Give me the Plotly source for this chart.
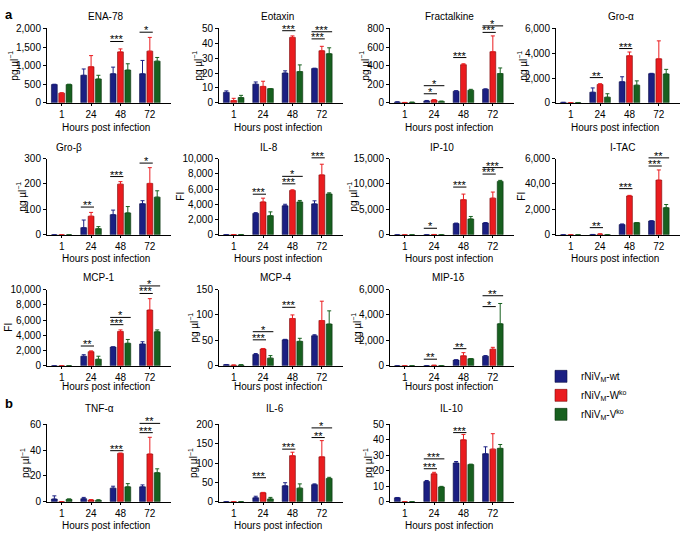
import plotly.graph_objects as go

W, H = 685, 536

HOURS = ["1", "24", "48", "72"]
SERIES = ["rNiV<sub>M</sub>-wt", "rNiV<sub>M</sub>-W<sup>ko</sup>", "rNiV<sub>M</sub>-V<sup>ko</sup>"]
COLORS = ["#1b1f82", "#ea1c1f", "#17601f"]
EDGES = ["#0a0d40", "#7a0a0a", "#0a300d"]

# Means: [wt, W-ko, V-ko] x hours (1, 24, 48, 72)
ENA78_MEAN = [[490, 740, 780, 780], [260, 970, 1370, 1390], [490, 640, 880, 1120]]
ENA78_ERR = [[10, 170, 180, 360], [10, 300, 80, 370], [10, 100, 170, 100]]
EOTAXIN_MEAN = [[7, 12.5, 20, 23], [1.5, 11, 44, 35], [3.5, 9.5, 21, 33]]
EOTAXIN_ERR = [[1, 1.5, 1.5, 0.3], [1.5, 3.5, 1, 3], [1.5, 0, 4.5, 4]]
FRACT_MEAN = [[8, 20, 125, 145], [3, 30, 410, 550], [5, 15, 135, 315]]
FRACT_ERR = [[2, 5, 5, 5], [1, 3, 10, 170], [1, 3, 10, 60]]
GROA_MEAN = [[30, 850, 1700, 2350], [10, 1480, 3800, 3550], [20, 450, 1420, 2330]]
GROA_ERR = [[5, 350, 400, 30], [5, 60, 300, 1450], [5, 280, 350, 370]]
GROB_MEAN = [[0, 28, 79, 122], [0, 73, 199, 202], [0, 24, 86, 148]]
GROB_ERR = [[0, 30, 18, 12], [0, 15, 10, 62], [0, 8, 25, 25]]
IL8_MEAN = [[20, 2800, 3800, 4050], [20, 4300, 5800, 7850], [30, 2500, 4300, 5350]]
IL8_ERR = [[5, 100, 200, 400], [5, 500, 100, 1400], [5, 500, 200, 150]]
IP10_MEAN = [[0, 20, 2200, 2300], [0, 50, 6900, 7200], [0, 20, 3100, 10500]]
IP10_ERR = [[0, 5, 100, 100], [0, 10, 1100, 1200], [0, 5, 500, 200]]
ITAC_MEAN = [[0, 20, 800, 1080], [0, 50, 3050, 4300], [0, 10, 950, 2130]]
ITAC_ERR = [[0, 5, 50, 20], [0, 20, 50, 800], [0, 5, 10, 250]]
MCP1_MEAN = [[0, 1250, 2450, 2850], [0, 1850, 4500, 7300], [0, 850, 2950, 4450]]
MCP1_ERR = [[0, 200, 30, 300], [0, 100, 200, 1500], [0, 400, 500, 250]]
MCP4_MEAN = [[2, 22, 51, 59], [1, 33, 93, 89], [1.5, 15, 48, 82]]
MCP4_ERR = [[0.5, 2, 1, 2], [0.5, 1, 7, 38], [0.5, 5, 6, 26]]
MIP1D_MEAN = [[0, 10, 450, 750], [0, 30, 780, 1300], [0, 10, 550, 3300]]
MIP1D_ERR = [[0, 5, 20, 50], [0, 10, 250, 150], [0, 5, 20, 1600]]
TNFA_MEAN = [[2, 2.3, 10.5, 11.5], [0, 1.3, 37.5, 37], [1.8, 1, 11.5, 22.5]]
TNFA_ERR = [[2.5, 1, 1.5, 1.5], [0, 0.3, 0.2, 13], [0.3, 0.5, 2.5, 3]]
IL6_MEAN = [[0, 10, 41, 44], [0, 23, 119, 116], [0, 7, 35, 60]]
IL6_ERR = [[0, 4, 8, 2], [0, 1, 9, 42], [0, 4, 11, 3]]
IL10_MEAN = [[2.5, 13, 25, 31], [0, 18, 40, 34], [0, 9.5, 24, 34.5]]
IL10_ERR = [[0.2, 0.7, 1, 4.5], [0, 1, 3.5, 10], [0, 0.4, 0.3, 2.5]]

# Tick values and labels
ENA78_TICKS = [0, 500, 1000, 1500, 2000]
EOTAXIN_TICKS = [0, 10, 20, 30, 40, 50]
FRACT_TICKS = [0, 200, 400, 600, 800]
GROA_TICKS = [0, 2000, 4000, 6000]
GROB_TICKS = [0, 100, 200, 300]
IL8_TICKS = [0, 2000, 4000, 6000, 8000, 10000]
IP10_TICKS = [0, 5000, 10000, 15000]
ITAC_TICKS = [0, 2000, 4000, 6000]
ITAC_TICK_LABELS = ["0", "2,000", "40,00", "6,000"]
MCP1_TICKS = [0, 2000, 4000, 6000, 8000, 10000]
MCP4_TICKS = [0, 50, 100, 150]
MIP1D_TICKS = [0, 2000, 4000, 6000]
TNFA_TICKS = [0, 20, 40, 60]
IL6_TICKS = [0, 50, 100, 150, 200]
IL10_TICKS = [0, 10, 20, 30, 40, 50]

# Significance: (hour index, compared group: 1 = W-ko, 2 = V-ko, label, bracket level)
ENA78_SIG = [(2, 1, "***", 1650), (3, 1, "*", 1900)]
EOTAXIN_SIG = [(2, 1, "***", 48.5), (3, 1, "***", 43), (3, 2, "***", 47.8)]
FRACT_SIG = [(1, 1, "*", 97), (1, 2, "*", 184), (2, 1, "***", 487), (3, 1, "***", 758), (3, 2, "*", 828)]
GROA_SIG = [(1, 1, "**", 2035), (2, 1, "***", 4380)]
GROB_SIG = [(1, 1, "**", 109), (2, 1, "***", 229), (3, 1, "*", 282)]
IL8_SIG = [(1, 1, "***", 5320), (2, 1, "***", 6680), (2, 2, "*", 7660), (3, 1, "***", 10090)]
IP10_SIG = [(1, 1, "*", 1280), (2, 1, "***", 9380), (3, 1, "***", 11940), (3, 2, "***", 13210)]
ITAC_SIG = [(1, 1, "**", 560), (2, 1, "***", 3630), (3, 1, "***", 5410), (3, 2, "**", 6050)]
MCP1_SIG = [(1, 1, "**", 2590), (2, 1, "***", 5390), (2, 2, "*", 6340), (3, 1, "***", 9480), (3, 2, "*", 10470)]
MCP4_SIG = [(1, 1, "***", 51), (1, 2, "*", 67), (2, 1, "***", 115)]
MIP1D_SIG = [(1, 1, "**", 517), (2, 1, "**", 1345), (3, 1, "*", 4655), (3, 2, "**", 5510)]
TNFA_SIG = [(2, 1, "***", 39.6), (3, 1, "***", 53.6), (3, 2, "**", 60.8)]
IL6_SIG = [(1, 1, "***", 62), (2, 1, "***", 136), (3, 1, "**", 166), (3, 2, "*", 191)]
IL10_SIG = [(1, 1, "***", 21.3), (1, 2, "***", 27.7), (2, 1, "***", 44.7)]

PG = "pg µl<sup>−1</sup>"
FI = "FI"

# (title, unit, means, errors, ticks, tick labels, significance, row, col, title x offset px)
panels = [
    ("ENA-78", PG, ENA78_MEAN, ENA78_ERR, ENA78_TICKS, None, ENA78_SIG, 0, 0, -4),
    ("Eotaxin", PG, EOTAXIN_MEAN, EOTAXIN_ERR, EOTAXIN_TICKS, None, EOTAXIN_SIG, 0, 1, -4),
    ("Fractalkine", PG, FRACT_MEAN, FRACT_ERR, FRACT_TICKS, None, FRACT_SIG, 0, 2, -3),
    ("Gro-α", PG, GROA_MEAN, GROA_ERR, GROA_TICKS, None, GROA_SIG, 0, 3, 3),
    ("Gro-β", PG, GROB_MEAN, GROB_ERR, GROB_TICKS, None, GROB_SIG, 1, 0, -40),
    ("IL-8", FI, IL8_MEAN, IL8_ERR, IL8_TICKS, None, IL8_SIG, 1, 1, -12),
    ("IP-10", PG, IP10_MEAN, IP10_ERR, IP10_TICKS, None, IP10_SIG, 1, 2, -10),
    ("I-TAC", FI, ITAC_MEAN, ITAC_ERR, ITAC_TICKS, ITAC_TICK_LABELS, ITAC_SIG, 1, 3, 4),
    ("MCP-1", FI, MCP1_MEAN, MCP1_ERR, MCP1_TICKS, None, MCP1_SIG, 2, 0, -10),
    ("MCP-4", PG, MCP4_MEAN, MCP4_ERR, MCP4_TICKS, None, MCP4_SIG, 2, 1, -5),
    ("MIP-1δ", PG, MIP1D_MEAN, MIP1D_ERR, MIP1D_TICKS, None, MIP1D_SIG, 2, 2, -4),
    ("TNF-α", PG, TNFA_MEAN, TNFA_ERR, TNFA_TICKS, None, TNFA_SIG, 3, 0, -9),
    ("IL-6", PG, IL6_MEAN, IL6_ERR, IL6_TICKS, None, IL6_SIG, 3, 1, -6),
    ("IL-10", PG, IL10_MEAN, IL10_ERR, IL10_TICKS, None, IL10_SIG, 3, 2, 0),
]

# Layout geometry (pixels)
ROW_TOP = [23, 156, 290, 428]
ROW_BOT = [99, 234, 368, 507]
ROW_TITLE = [11, 145, 278, 412]
ROW_XTITLE = [124, 258, 389, 531]
COL_LEFT = [47, 219, 390, 556]
PLOT_W = 124
FONT = "Liberation Sans, Arial, Helvetica, sans-serif"

BARGAP = 0.25
BARGROUPGAP = 0.2
slot = (1 - BARGAP) / 3
bw = slot * (1 - BARGROUPGAP)


def px(x):
    return x / W


def py(y):
    return 1 - y / H


def fmt(v):
    return f"{v:,}"


fig = go.Figure()
layout = dict(
    width=W, height=H, margin=dict(l=0, r=0, t=0, b=0),
    paper_bgcolor="white", plot_bgcolor="white",
    barmode="group", bargap=BARGAP, bargroupgap=BARGROUPGAP,
    font=dict(family=FONT, size=10, color="black"),
    showlegend=True,
    legend=dict(x=px(541), y=py(364), xanchor="left", yanchor="top",
                font=dict(size=10, family=FONT), bgcolor="rgba(0,0,0,0)",
                tracegroupgap=0, itemwidth=30),
)
annotations = []
shapes = []

for i, (title, unit, mean, err, ticks, ticklabels, sig, r, c, tdx) in enumerate(panels):
    n = i + 1
    xa = "x" if n == 1 else f"x{n}"
    ya = "y" if n == 1 else f"y{n}"
    left = COL_LEFT[c]
    right = left + PLOT_W
    top, bot = ROW_TOP[r], ROW_BOT[r]
    ymax = ticks[-1]
    for s in range(3):
        fig.add_trace(go.Bar(
            x=list(range(4)), y=mean[s], name=SERIES[s],
            marker=dict(color=COLORS[s], line=dict(color=EDGES[s], width=0.6)),
            error_y=dict(type="data", array=err[s], arrayminus=[0] * 4, symmetric=False,
                         color=COLORS[s], thickness=1, width=2),
            xaxis=xa, yaxis=ya, showlegend=(i == 0), legendgroup=str(s),
            offsetgroup=str(s),
        ))
    labels = ticklabels if ticklabels else [fmt(t) for t in ticks]
    layout["xaxis" if n == 1 else f"xaxis{n}"] = dict(
        domain=[px(left), px(right)], anchor=ya, range=[-0.5, 3.72],
        tickmode="array", tickvals=list(range(4)), ticktext=HOURS,
        showline=True, linecolor="black", linewidth=1, ticks="outside", ticklen=2,
        tickcolor="black", showgrid=False, zeroline=False, fixedrange=True,
        tickfont=dict(size=10),
    )
    layout["yaxis" if n == 1 else f"yaxis{n}"] = dict(
        domain=[py(bot), py(top)], anchor=xa, range=[0, ymax],
        tickmode="array", tickvals=ticks, ticktext=labels,
        showline=True, linecolor="black", linewidth=1, ticks="outside", ticklen=3,
        tickcolor="black", showgrid=False, zeroline=False, fixedrange=True,
        tickfont=dict(size=10),
    )
    cx = (left + right) / 2
    annotations.append(dict(text=title, x=px(cx + tdx), y=py(ROW_TITLE[r]), xref="paper", yref="paper",
                            xanchor="center", yanchor="middle", showarrow=False, font=dict(size=10)))
    annotations.append(dict(text="Hours post infection", x=px(cx - 3), y=py(ROW_XTITLE[r]),
                            xref="paper", yref="paper", xanchor="center", yanchor="middle",
                            showarrow=False, font=dict(size=10)))
    maxlen = max(len(l) for l in labels)
    annotations.append(dict(text=unit, x=px(left - (14 + 4 * maxlen)), y=py((top + bot) / 2),
                            xref="paper", yref="paper", xanchor="center", yanchor="middle",
                            textangle=-90, showarrow=False, font=dict(size=10)))
    d0, d1 = py(bot), py(top)
    for (h, g, stars, level) in sig:
        x0 = h - slot - bw / 2
        x1 = h + (g - 1) * slot + bw / 2
        yy = d0 + (level / ymax) * (d1 - d0)
        shapes.append(dict(type="line", xref=xa, yref="paper", x0=x0, x1=x1, y0=yy, y1=yy,
                           line=dict(color="black", width=1)))
        annotations.append(dict(text=stars, x=(x0 + x1) / 2, y=yy, xref=xa, yref="paper",
                                xanchor="center", yanchor="bottom", yshift=-6, showarrow=False,
                                font=dict(size=11)))

annotations.append(dict(text="<b>a</b>", x=px(3), y=py(9), xref="paper", yref="paper",
                        xanchor="left", yanchor="middle", showarrow=False, font=dict(size=13)))
annotations.append(dict(text="<b>b</b>", x=px(3), y=py(407), xref="paper", yref="paper",
                        xanchor="left", yanchor="middle", showarrow=False, font=dict(size=13)))

layout["annotations"] = annotations
layout["shapes"] = shapes
fig.update_layout(**layout)
fig.write_html("out.html", config={"displayModeBar": False},
               post_script="document.body.style.margin='0';document.body.style.padding='0';")
